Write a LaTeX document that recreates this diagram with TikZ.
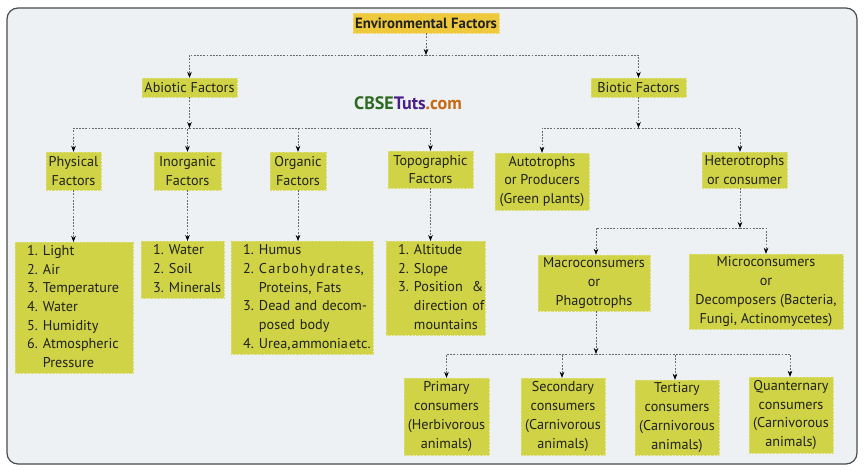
\documentclass[tikz,border=0pt]{standalone}
\usepackage{fontspec}
\setmainfont{PT Sans}
\usetikzlibrary{arrows.meta}
\definecolor{boxg}{HTML}{CFD345}
\definecolor{boxy}{HTML}{EFC93C}
\definecolor{bgc}{HTML}{EEF1F3}
\definecolor{framec}{HTML}{4A4A4A}
\definecolor{linec}{HTML}{6A6A6A}
\definecolor{txt}{HTML}{222222}
\definecolor{wgreen}{HTML}{2B6A20}
\definecolor{wpurple}{HTML}{4A1F88}
\definecolor{worange}{HTML}{C46A12}
\begin{document}
\begin{tikzpicture}[x=1pt,y=-1pt,
  font=\fontsize{14.2}{18.7}\selectfont,
  box/.style={fill=boxg, draw=boxg!75!white, densely dotted, line width=0.4pt,
    inner sep=0pt, align=center, text=txt},
  listbox/.style={box, anchor=north west, inner xsep=12pt, inner ysep=0pt, align=left},
  conn/.style={draw=linec, dash pattern=on 1.8pt off 1.4pt, line width=0.7pt,
    -{Stealth[length=6pt,width=4.6pt,color=black]}},
]
\useasboundingbox (0,0) rectangle (865,471);
\fill[white] (0,0) rectangle (865,471);
\draw[framec, line width=1.2pt, fill=bgc, rounded corners=11pt] (7,8) rectangle (857,464);

% watermark
\node[font=\fontsize{18}{20}\selectfont\bfseries, inner sep=0pt] (wm) at (408,103)
  {{\color{wgreen}CBSE}{\color{wpurple}Tuts}{\color{worange}.com}};

% top levels
\node[box, fill=boxy, draw=boxy!75!white, font=\fontsize{14.8}{18.7}\selectfont\bfseries,
  minimum width=146, minimum height=20] (env) at (426,23) {Environmental Factors};
\node[box, minimum width=95, minimum height=19] (abio) at (189.5,87.5) {Abiotic Factors};
\node[box, minimum width=95, minimum height=19] (bio) at (638.5,87.5) {Biotic Factors};

% abiotic children
\node[box, minimum width=55, minimum height=38] (phys) at (73.5,171) {Physical\\Factors};
\node[box, minimum width=67, minimum height=38] (inorg) at (187.5,171) {Inorganic\\Factors};
\node[box, minimum width=56, minimum height=38] (org) at (298,171) {Organic\\Factors};
\node[box, minimum width=85, minimum height=37] (topo) at (430.5,169.5) {Topographic\\Factors};

% biotic children
\node[box, minimum width=94, minimum height=57] (auto) at (542,181.5) {Autotrophs\\or Producers\\(Green plants)};
\node[box, minimum width=85, minimum height=36] (hetero) at (744.5,170) {Heterotrophs\\or consumer};

\node[box, minimum width=112, minimum height=56] (macro) at (594,283) {Macroconsumers\\or\\Phagotrophs};
\node[box, minimum width=154, minimum height=75] (micro) at (766,291.5) {Microconsumers\\or\\Decomposers (Bacteria,\\Fungi, Actinomycetes)};

\node[box, minimum width=85, minimum height=77] (prim) at (446.5,416.5) {Primary\\consumers\\(Herbivorous\\animals)};
\node[box, minimum width=84, minimum height=77] (sec) at (563,416.5) {Secondary\\consumers\\(Carnivorous\\animals)};
\node[box, minimum width=84, minimum height=75] (ter) at (677,417.5) {Tertiary\\consumers\\(Carnivorous\\animals)};
\node[box, minimum width=84, minimum height=76] (qua) at (791,415) {Quanternary\\consumers\\(Carnivorous\\animals)};

% lists
\node[listbox, text width=94, minimum height=131] (physl) at (15,242)
  {\begin{tabular}{@{}r@{\hspace{5pt}}l@{}}1.&Light\\2.&Air\\3.&Temperature\\4.&Water\\5.&Humidity\\6.&Atmospheric\\&Pressure\end{tabular}};
\node[listbox, text width=59, minimum height=57] (inorgl) at (141,241)
  {\begin{tabular}{@{}r@{\hspace{5pt}}l@{}}1.&Water\\2.&Soil\\3.&Minerals\end{tabular}};
\node[listbox, text width=118, minimum height=113] (orgl) at (231,241)
  {\begin{tabular}{@{}r@{\hspace{5pt}}l@{}}1.&Humus\\2.&C\kern1.2pt a\kern1.2pt r\kern1.2pt b\kern1.2pt o\kern1.2pt h\kern1.2pt y\kern1.2pt d\kern1.2pt r\kern1.2pt a\kern1.2pt t\kern1.2pt e\kern1.2pt s,\\&Proteins, Fats\\3.&Dead and decom-\\&posed body\\4.&Urea,\kern1.2pt ammonia\kern1.2pt etc.\end{tabular}};
\node[listbox, text width=75, minimum height=94] (topol) at (386,241)
  {\begin{tabular}{@{}r@{\hspace{5pt}}l@{}}1.&Altitude\\2.&Slope\\3.&Position\hspace{9pt}\&\\&direction of\\&mountains\end{tabular}};

% junctions
\coordinate (j1) at (426,55);
\coordinate (j2) at (189.5,128);
\coordinate (j3) at (638.5,128);
\coordinate (j4) at (740,228);
\coordinate (j5) at (596,354);

\draw[conn] (env.south) -- (j1);
\draw[conn] (j1) -| (abio.north);
\draw[conn] (j1) -| (bio.north);

\draw[conn] (abio.south) -- (j2);
\draw[conn] (j2) -| (phys.north);
\draw[conn] (j2) -| (inorg.north);
\draw[conn] (j2) -| (org.north);
\draw[conn] (j2) -| (topo.north);

\draw[conn] (bio.south) -- (j3);
\draw[conn] (j3) -| (auto.north);
\draw[conn] (j3) -| ([xshift=-4.5pt]hetero.north);

\draw[conn] ([xshift=-4.5pt]hetero.south) -- (j4);
\draw[conn] (j4) -| ([xshift=2pt]macro.north);
\draw[conn] (j4) -| (micro.north);

\draw[conn] ([xshift=2pt]macro.south) -- (j5);
\draw[conn] (j5) -| (prim.north);
\draw[conn] (j5) -| ([xshift=-1pt]sec.north);
\draw[conn] (j5) -| ([xshift=-2pt]ter.north);
\draw[conn] (j5) -| ([xshift=-1pt]qua.north);

\draw[conn] (phys.south) -- (phys.south |- physl.north);
\draw[conn] (inorg.south) -- (inorg.south |- inorgl.north);
\draw[conn] (org.south) -- (org.south |- orgl.north);
\draw[conn] (topo.south) -- (topo.south |- topol.north);
\end{tikzpicture}
\end{document}
